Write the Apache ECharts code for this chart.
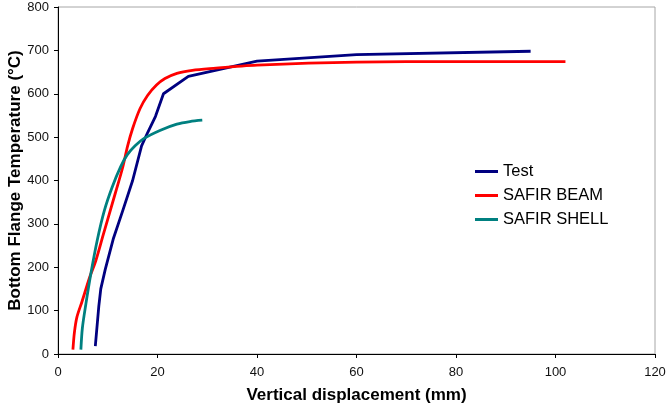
<!DOCTYPE html>
<html>
<head>
<meta charset="utf-8">
<script src="https://cdn.jsdelivr.net/npm/echarts@6/dist/echarts.min.js"></script>
<style>
  html, body { margin: 0; padding: 0; background: #fff; }
  #chart { width: 668px; height: 405px; }
</style>
</head>
<body>
<div id="chart"></div>
<script>
// Bottom flange temperature vs. vertical displacement: measured and SAFIR models
const seriesNames = ['Test', 'SAFIR BEAM', 'SAFIR SHELL'];

// [displacement (mm), temperature (°C)]
const testData = [
  [7.5, 18], [8.2, 110], [8.6, 150], [9.5, 195], [11.1, 265], [13, 330],
  [15, 400], [16.8, 480], [18, 510], [19.6, 548], [21.2, 600], [26.2, 640],
  [40, 675], [60, 690], [95, 698]
];
const beamData = [
  [3.0, 10], [3.3, 50], [3.8, 85], [4.8, 120], [6.4, 178], [7.6, 215],
  [9.1, 275], [11.5, 370], [13.0, 430], [14.0, 480], [15.0, 520],
  [16.5, 566], [18.0, 596], [19.8, 620], [21.5, 635], [23.9, 647],
  [27, 654], [30.5, 658], [40, 666], [60, 673], [80, 674], [102, 674]
];
const shellData = [
  [4.6, 10], [4.9, 60], [5.6, 115], [6.6, 185], [7.9, 263], [9.3, 330],
  [10.9, 385], [12.6, 432], [13.9, 459], [15.5, 480], [17.3, 497],
  [20.6, 516], [23.9, 530], [26.5, 536], [29, 539]
];

const xTicks = { min: 0, max: 120, interval: 20 };
const yTicks = { min: 0, max: 800, interval: 100 };

const colors = ['#000080', '#ff0000', '#008080'];
const font = 'Liberation Sans, Arial, sans-serif';

const chart = echarts.init(document.getElementById('chart'), null, { renderer: 'canvas' });

function lineSeries(name, data, color, smooth) {
  return {
    name: name,
    type: 'line',
    data: data,
    smooth: smooth,
    showSymbol: false,
    symbol: 'none',
    lineStyle: { color: color, width: 2.8 },
    itemStyle: { color: color },
    z: 3
  };
}

chart.setOption({
  animation: false,
  backgroundColor: '#fff',
  grid: {
    left: 58, right: 13, top: 7, bottom: 51,
    containLabel: false,
    outerBoundsMode: 'none',
    show: true, borderColor: '#a6a6a6', borderWidth: 1
  },
  legend: {
    orient: 'vertical',
    left: 470, top: 158,
    itemWidth: 23, itemHeight: 3, itemGap: 7,
    icon: 'rect',
    textStyle: { fontFamily: font, fontSize: 16.5, color: '#000' },
    data: seriesNames
  },
  xAxis: {
    type: 'value',
    min: xTicks.min, max: xTicks.max, interval: xTicks.interval,
    name: 'Vertical displacement (mm)',
    nameLocation: 'middle', nameGap: 33, nameMoveOverlap: false,
    nameTextStyle: { fontFamily: font, fontSize: 17, fontWeight: 'bold', color: '#000' },
    axisLine: { show: true, lineStyle: { color: '#000', width: 1 } },
    axisTick: { show: true, length: 4, lineStyle: { color: '#000' } },
    axisLabel: { fontFamily: font, fontSize: 13, color: '#111', margin: 12 },
    splitLine: { show: false }
  },
  yAxis: {
    type: 'value',
    min: yTicks.min, max: yTicks.max, interval: yTicks.interval,
    name: 'Bottom Flange Temperature (°C)',
    nameLocation: 'middle', nameGap: 34, nameMoveOverlap: false,
    nameTextStyle: { fontFamily: font, fontSize: 17, fontWeight: 'bold', color: '#000' },
    axisLine: { show: true, lineStyle: { color: '#000', width: 1 } },
    axisTick: { show: true, length: 4, lineStyle: { color: '#000' } },
    axisLabel: { fontFamily: font, fontSize: 13, color: '#111', margin: 9 },
    splitLine: { show: false }
  },
  series: [
    lineSeries(seriesNames[0], testData, colors[0], false),
    lineSeries(seriesNames[1], beamData, colors[1], 0.3),
    lineSeries(seriesNames[2], shellData, colors[2], 0.3)
  ]
});
</script>
</body>
</html>
